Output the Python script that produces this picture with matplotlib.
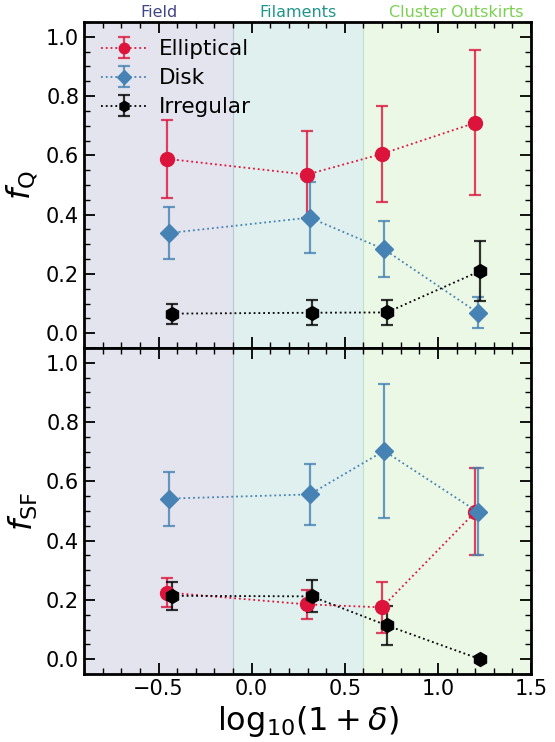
import matplotlib
matplotlib.use("Agg")
import matplotlib.pyplot as plt
import numpy as np
from matplotlib.ticker import MultipleLocator

# environment regions (log10(1+delta) boundaries)
env_names = ['Field', 'Filaments', 'Cluster Outskirts']
env_edges = [-0.9, -0.1, 0.6, 1.5]
env_label_x = [-0.5, 0.25, 1.1]
env_cols = [plt.cm.viridis(0.2), plt.cm.viridis(0.52), plt.cm.viridis(0.8)]

# x positions (slightly offset per morphology)
x_ell = [-0.452, 0.296, 0.700, 1.201]
x_disk = [-0.443, 0.311, 0.711, 1.214]
x_irr = [-0.426, 0.322, 0.726, 1.227]

# quiescent fractions
fq_ell = [0.588, 0.535, 0.605, 0.710]
fq_ell_err = [0.131, 0.148, 0.163, 0.245]
fq_disk = [0.338, 0.390, 0.283, 0.069]
fq_disk_err = [0.088, 0.120, 0.095, 0.052]
fq_irr = [0.066, 0.069, 0.070, 0.210]
fq_irr_err = [0.034, 0.042, 0.041, 0.101]

# star-forming fractions
fsf_ell = [0.225, 0.185, 0.175, 0.497]
fsf_ell_err = [0.050, 0.048, 0.085, 0.147]
fsf_disk = [0.542, 0.556, 0.703, 0.497]
fsf_disk_err = [0.091, 0.102, 0.227, 0.147]
fsf_irr = [0.214, 0.212, 0.114, 0.0]
fsf_irr_err = [0.048, 0.054, 0.065, 0.0]

morphs = ['Elliptical', 'Disk', 'Irregular']
colors = ['crimson', 'steelblue', 'black']
markers = ['o', 'D', 'h']
msizes = [10, 9, 10]

plt.rcParams['font.family'] = 'DejaVu Sans'
fig = plt.figure(figsize=(5.55, 7.42), dpi=100)
ax1 = fig.add_axes([0.1514, 0.531, 0.8054, 0.4394])
ax2 = fig.add_axes([0.1514, 0.0916, 0.8054, 0.4394], sharex=ax1)


def draw(ax, xs, ys, errs):
    for i in range(3):
        eb = ax.errorbar(xs[i], ys[i], yerr=errs[i], color=colors[i], marker=markers[i],
                         ms=msizes[i], ls=':', lw=1.3, elinewidth=1.6, capsize=4,
                         capthick=1.6, label=morphs[i], zorder=3)
        for c in eb[1]:
            c.set_alpha(0.8)
        for b in eb[2]:
            b.set_alpha(0.8)
    for j in range(3):
        ax.axvspan(env_edges[j], env_edges[j + 1], color=env_cols[j], alpha=0.14, lw=0.8, zorder=0)
    ax.set_xlim(-0.9, 1.5)
    ax.set_ylim(-0.05, 1.05)
    ax.xaxis.set_major_locator(MultipleLocator(0.5))
    ax.xaxis.set_minor_locator(MultipleLocator(0.1))
    ax.yaxis.set_major_locator(MultipleLocator(0.2))
    ax.yaxis.set_minor_locator(MultipleLocator(0.05))
    ax.tick_params(which='both', direction='in', top=True, right=True, labelsize=15)
    ax.tick_params(which='major', length=8, width=1.3)
    ax.tick_params(which='minor', length=4, width=1.0)
    for s in ax.spines.values():
        s.set_linewidth(2)


draw(ax1, [x_ell, x_disk, x_irr], [fq_ell, fq_disk, fq_irr], [fq_ell_err, fq_disk_err, fq_irr_err])
draw(ax2, [x_ell, x_disk, x_irr], [fsf_ell, fsf_disk, fsf_irr], [fsf_ell_err, fsf_disk_err, fsf_irr_err])

ax1.tick_params(labelbottom=False)
ax1.set_ylabel(r'$f_{\rm Q}$', fontsize=23)
ax2.set_ylabel(r'$f_{\rm SF}$', fontsize=23)
ax2.set_xlabel(r'$\mathrm{log}_{10}(1+\delta)$', fontsize=23)
ax1.legend(loc='upper left', frameon=False, fontsize=15.5, handletextpad=0.6,
           borderaxespad=0.4, labelspacing=0.42, markerscale=0.75, handlelength=2.1)

for name, xl, c in zip(env_names, env_label_x, env_cols):
    ax1.text(xl, 1.058, name, color=c, fontsize=11.5, ha='center', va='bottom')

fig.savefig('out.png', dpi=100)
